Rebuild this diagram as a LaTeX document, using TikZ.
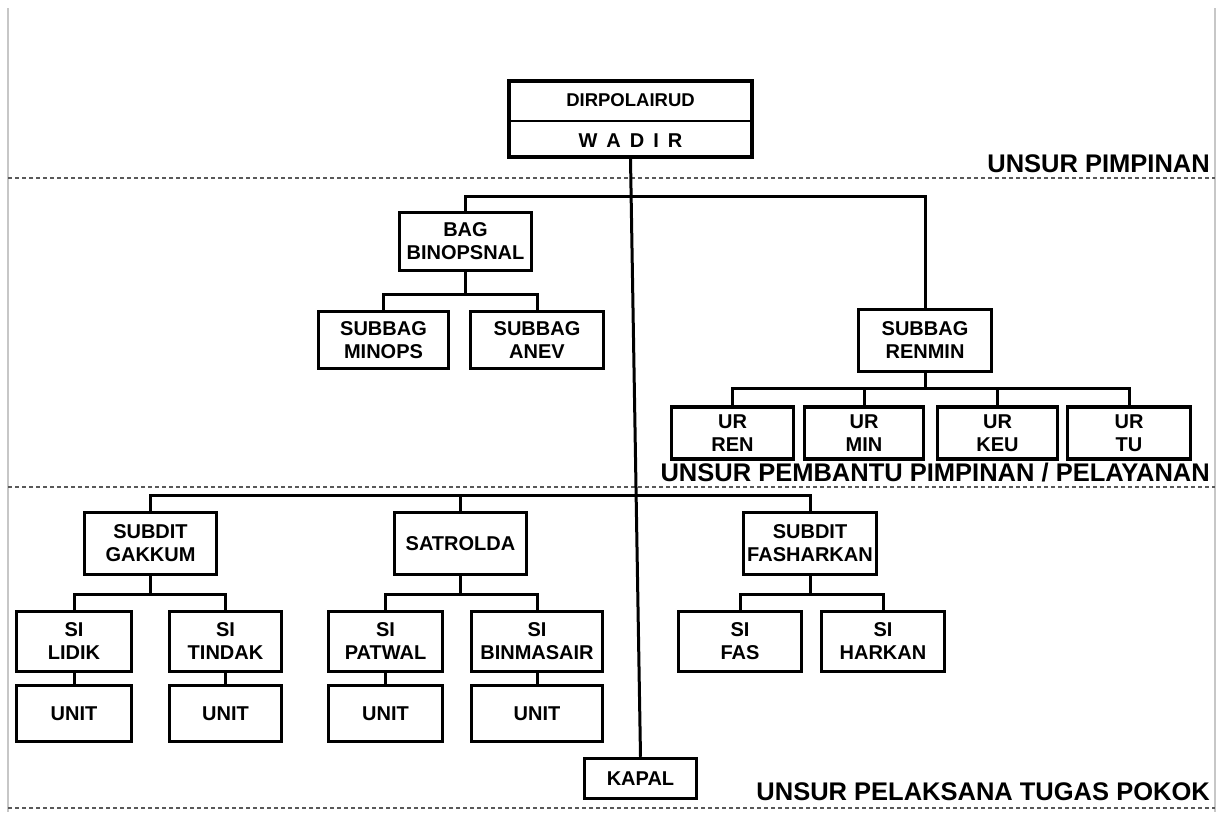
\documentclass[tikz,border=0pt]{standalone}
\usepackage{fontspec}
\setmainfont{Liberation Sans}
\begin{document}
\begin{tikzpicture}[x=1pt,y=-1pt,
  box/.style={draw=black, line width=3.5pt, fill=white, align=center,
    font=\fontsize{20}{23}\selectfont\bfseries, inner sep=0pt},
  conn/.style={line width=3pt},
  sect/.style={font=\fontsize{25.5}{29}\selectfont\bfseries, anchor=base east, inner sep=0pt},
  sepline/.style={draw=black!65, line width=1.3pt, dash pattern=on 4pt off 3pt},
  border/.style={draw=black!22, line width=2pt},
  plain/.style={inner sep=0pt, font=\fontsize{18.5}{22}\selectfont\bfseries}]
\useasboundingbox (0,0) rectangle (1221,812);
% page borders
\coordinate (bl1) at (8,8); \coordinate (bl2) at (8,812);
\coordinate (br1) at (1215,8); \coordinate (br2) at (1215,812);
\draw[border] (bl1) -- (bl2);
\draw[border] (br1) -- (br2);
% separators
\coordinate (s1a) at (8,178); \coordinate (s1b) at (1215,178);
\coordinate (s2a) at (8,487); \coordinate (s2b) at (1215,487);
\coordinate (s3a) at (8,808); \coordinate (s3b) at (1215,808);
\draw[sepline] (s1a) -- (s1b);
\draw[sepline] (s2a) -- (s2b);
\draw[sepline] (s3a) -- (s3b);
% bus levels
\coordinate (b1) at (0,196);
\coordinate (b1s) at (0,294);
\coordinate (b1u) at (0,388);
\coordinate (b2) at (0,495);
\coordinate (b2s) at (0,594);
% top box
\node[box, minimum width=243pt, minimum height=76pt] (top) at (630.5,119) {};
\node[plain] (dir) at (630.5,100) {DIRPOLAIRUD};
\node[plain, font=\fontsize{20}{22}\selectfont\bfseries] (wadir) at (630.5,140.5) {W\hspace{0.45em}A\hspace{0.45em}D\hspace{0.45em}I\hspace{0.45em}R};
\coordinate (dv) at (0,121);
\draw[line width=2pt] (dv -| top.west) -- (dv -| top.east);
% kapal
\node[box, minimum width=112pt, minimum height=40pt] (kapal) at (640.5,778.5) {KAPAL};
% level 1
\node[box, minimum width=132pt, minimum height=58pt] (bag) at (465.5,241.5) {BAG\\BINOPSNAL};
\node[box, minimum width=130pt, minimum height=57pt] (minops) at (383.5,340) {SUBBAG\\MINOPS};
\node[box, minimum width=133pt, minimum height=57pt] (anev) at (537,340) {SUBBAG\\ANEV};
\node[box, minimum width=133pt, minimum height=62pt] (renmin) at (925,340.5) {SUBBAG\\RENMIN};
\node[box, minimum width=122pt, minimum height=52pt] (ren) at (732.5,433) {UR\\REN};
\node[box, minimum width=119pt, minimum height=52pt] (min) at (864,433) {UR\\MIN};
\node[box, minimum width=120pt, minimum height=52pt] (keu) at (997.5,433) {UR\\KEU};
\node[box, minimum width=123pt, minimum height=52pt] (tu) at (1129,433) {UR\\TU};
% level 2
\node[box, minimum width=132pt, minimum height=62pt] (gakkum) at (150.5,543.5) {SUBDIT\\GAKKUM};
\node[box, minimum width=132pt, minimum height=62pt] (satrolda) at (460.5,543.5) {SATROLDA};
\node[box, minimum width=133pt, minimum height=62pt] (fash) at (810,543.5) {SUBDIT\\FASHARKAN};
\node[box, minimum width=115pt, minimum height=60pt] (lidik) at (74,641.5) {SI\\LIDIK};
\node[box, minimum width=112pt, minimum height=60pt] (tindak) at (225.5,641.5) {SI\\TINDAK};
\node[box, minimum width=114pt, minimum height=60pt] (patwal) at (385.5,641.5) {SI\\PATWAL};
\node[box, minimum width=131pt, minimum height=60pt] (binmas) at (537,641.5) {SI\\BINMASAIR};
\node[box, minimum width=123pt, minimum height=60pt] (fas) at (740,641.5) {SI\\FAS};
\node[box, minimum width=123pt, minimum height=60pt] (harkan) at (883,641.5) {SI\\HARKAN};
\node[box, minimum width=115pt, minimum height=56pt] (u1) at (74,713.5) {UNIT};
\node[box, minimum width=112pt, minimum height=56pt] (u2) at (225.5,713.5) {UNIT};
\node[box, minimum width=114pt, minimum height=56pt] (u3) at (385.5,713.5) {UNIT};
\node[box, minimum width=131pt, minimum height=56pt] (u4) at (537,713.5) {UNIT};
% connectors
\draw[conn] (top.south) -- (kapal.north);
\draw[conn] (bag.north) -- (bag.north |- b1) -- (b1 -| renmin.north) -- (renmin.north);
\draw[conn] (bag.south) -- (bag.south |- b1s);
\draw[conn] (minops.north) -- (minops.north |- b1s) -- (b1s -| anev.north) -- (anev.north);
\draw[conn] (renmin.south) -- (renmin.south |- b1u);
\draw[conn] (ren.north) -- (ren.north |- b1u) -- (b1u -| tu.north) -- (tu.north);
\draw[conn] (min.north) -- (min.north |- b1u);
\draw[conn] (keu.north) -- (keu.north |- b1u);
\draw[conn] (gakkum.north) -- (gakkum.north |- b2) -- (b2 -| fash.north) -- (fash.north);
\draw[conn] (satrolda.north) -- (satrolda.north |- b2);
\draw[conn] (gakkum.south) -- (gakkum.south |- b2s);
\draw[conn] (lidik.north) -- (lidik.north |- b2s) -- (b2s -| tindak.north) -- (tindak.north);
\draw[conn] (satrolda.south) -- (satrolda.south |- b2s);
\draw[conn] (patwal.north) -- (patwal.north |- b2s) -- (b2s -| binmas.north) -- (binmas.north);
\draw[conn] (fash.south) -- (fash.south |- b2s);
\draw[conn] (fas.north) -- (fas.north |- b2s) -- (b2s -| harkan.north) -- (harkan.north);
\draw[conn] (lidik.south) -- (u1.north);
\draw[conn] (tindak.south) -- (u2.north);
\draw[conn] (patwal.south) -- (u3.north);
\draw[conn] (binmas.south) -- (u4.north);
% section labels
\node[sect] (l1) at (1210,172) {UNSUR PIMPINAN};
\node[sect] (l2) at (1210,481) {UNSUR PEMBANTU PIMPINAN / PELAYANAN};
\node[sect] (l3) at (1210,800) {UNSUR PELAKSANA TUGAS POKOK};
\end{tikzpicture}
\end{document}
